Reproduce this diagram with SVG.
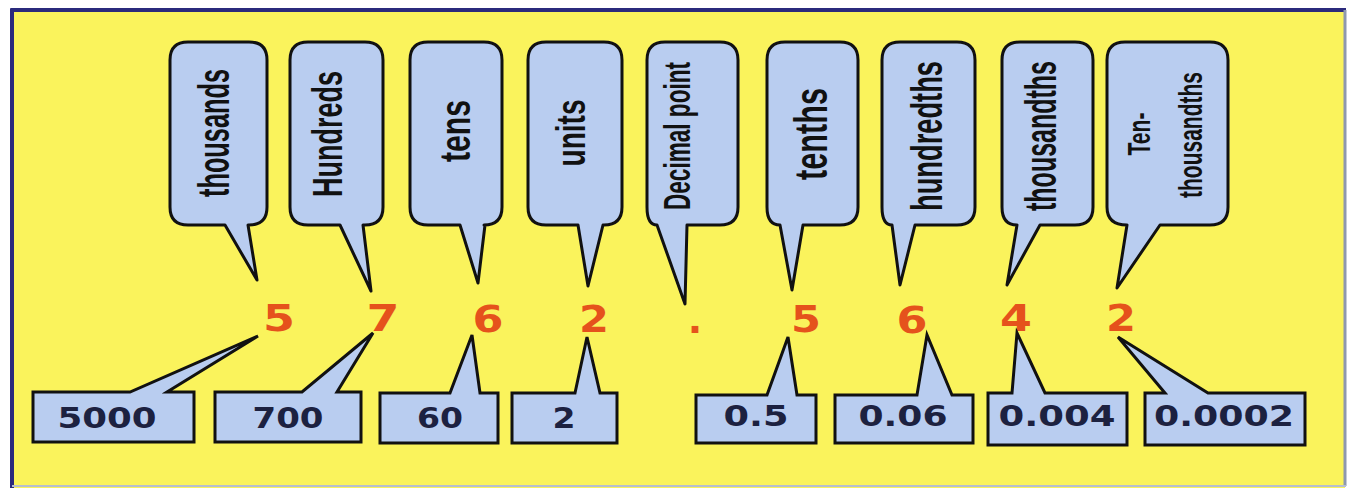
<svg xmlns="http://www.w3.org/2000/svg" width="1349" height="488" viewBox="0 0 1349 488">
  <style>
    .bubble { fill: #b9cdf0; stroke: #111; stroke-width: 3; stroke-linejoin: round; }
    .box { fill: #b9cdf0; stroke: #111; stroke-width: 3; stroke-linejoin: miter; }
    .label { font-family: "Liberation Sans Narrow", "Liberation Sans", sans-serif; font-weight: bold; fill: #111; text-anchor: middle; }
    .digit { font-family: "DejaVu Sans", sans-serif; font-weight: bold; font-size: 38px; fill: #e5521c; text-anchor: middle; }
    .value { font-family: "DejaVu Sans", sans-serif; font-weight: bold; font-size: 28px; fill: #1c2140; text-anchor: middle; }
  </style>

  <!-- page and framed panel -->
  <rect x="0" y="0" width="1349" height="488" fill="#ffffff"/>
  <rect x="12" y="10" width="1333" height="478" fill="#faf35c"/>
  <line x1="10.5" y1="10" x2="1346" y2="10" stroke="#2b2a7c" stroke-width="4"/>
  <line x1="12" y1="8.5" x2="12" y2="488" stroke="#2b2a7c" stroke-width="4"/>
  <line x1="1345" y1="10" x2="1345" y2="486" stroke="#8e98ae" stroke-width="3"/>
  <line x1="12" y1="486" x2="1346" y2="486" stroke="#b7bfcf" stroke-width="2"/>

  <!-- place-value name bubbles; labels run bottom-to-top in a tall, narrow face -->
  <g id="bubble-thousands">
    <path class="bubble" d="M188,42 H249 Q267,42 267,60 V207 Q267,225 249,225 H248 L257,280 L225,225 H188 Q170,225 170,207 V60 Q170,42 188,42 Z"/>
    <text class="label" font-size="31" textLength="128" lengthAdjust="spacingAndGlyphs" transform="translate(229,133) rotate(-90) scale(1,1.42)">thousands</text>
  </g>
  <g id="bubble-hundreds">
    <path class="bubble" d="M308,42 H365 Q383,42 383,60 V207 Q383,225 365,225 H363 L371,291 L340,225 H308 Q290,225 290,207 V60 Q290,42 308,42 Z"/>
    <text class="label" font-size="30" textLength="126" lengthAdjust="spacingAndGlyphs" transform="translate(342,134) rotate(-90) scale(1,1.4)">Hundreds</text>
  </g>
  <g id="bubble-tens">
    <path class="bubble" d="M428,42 H484 Q502,42 502,60 V207 Q502,225 484,225 H485 L478,283 L460,225 H428 Q410,225 410,207 V60 Q410,42 428,42 Z"/>
    <text class="label" font-size="30" textLength="62" lengthAdjust="spacingAndGlyphs" transform="translate(470,131) rotate(-90) scale(1,1.4)">tens</text>
  </g>
  <g id="bubble-units">
    <path class="bubble" d="M546,42 H604 Q622,42 622,60 V207 Q622,225 604,225 H603 L588,286 L578,225 H546 Q528,225 528,207 V60 Q528,42 546,42 Z"/>
    <text class="label" font-size="29" textLength="67" lengthAdjust="spacingAndGlyphs" transform="translate(585,133) rotate(-90) scale(1,1.38)">units</text>
  </g>
  <g id="bubble-decimal-point">
    <path class="bubble" d="M665,42 H720 Q738,42 738,60 V207 Q738,225 720,225 H687 L685,304 L657,225 Q647,225 647,207 V60 Q647,42 665,42 Z"/>
    <text class="label" font-size="27" textLength="148" lengthAdjust="spacingAndGlyphs" transform="translate(690,136) rotate(-90) scale(1,1.38)">Decimal point</text>
  </g>
  <g id="bubble-tenths">
    <path class="bubble" d="M785,42 H840 Q858,42 858,60 V207 Q858,225 840,225 H803 L792,290 L780,225 Q767,225 767,207 V60 Q767,42 785,42 Z"/>
    <text class="label" font-size="32" textLength="92" lengthAdjust="spacingAndGlyphs" transform="translate(827,134) rotate(-90) scale(1,1.42)">tenths</text>
  </g>
  <g id="bubble-hundredths">
    <path class="bubble" d="M900,42 H957 Q975,42 975,60 V207 Q975,225 957,225 H915 L900,285 L892,225 Q882,225 882,207 V60 Q882,42 900,42 Z"/>
    <text class="label" font-size="31" textLength="150" lengthAdjust="spacingAndGlyphs" transform="translate(942,136) rotate(-90) scale(1,1.42)">hundredths</text>
  </g>
  <g id="bubble-thousandths">
    <path class="bubble" d="M1020,42 H1075 Q1093,42 1093,60 V207 Q1093,225 1075,225 H1040 L1007,285 L1017,225 Q1002,225 1002,207 V60 Q1002,42 1020,42 Z"/>
    <text class="label" font-size="31" textLength="150" lengthAdjust="spacingAndGlyphs" transform="translate(1056,136) rotate(-90) scale(1,1.42)">thousandths</text>
  </g>
  <g id="bubble-ten-thousandths">
    <path class="bubble" d="M1125,42 H1210 Q1228,42 1228,60 V207 Q1228,225 1210,225 H1160 L1117,288 L1127,225 Q1107,225 1107,207 V60 Q1107,42 1125,42 Z"/>
    <text class="label" font-size="23" textLength="43" lengthAdjust="spacingAndGlyphs" transform="translate(1150,134) rotate(-90) scale(1,1.4)">Ten-</text>
    <text class="label" font-size="24" textLength="126" lengthAdjust="spacingAndGlyphs" transform="translate(1202,135) rotate(-90) scale(1,1.42)">thousandths</text>
  </g>

  <!-- the number 5762.5642 -->
  <g id="number">
    <text class="digit" x="279" y="331" textLength="32" lengthAdjust="spacingAndGlyphs">5</text>
    <text class="digit" x="383" y="331" textLength="33" lengthAdjust="spacingAndGlyphs">7</text>
    <text class="digit" x="488" y="332" textLength="31" lengthAdjust="spacingAndGlyphs">6</text>
    <text class="digit" x="594" y="332" textLength="30" lengthAdjust="spacingAndGlyphs">2</text>
    <text class="digit" x="695" y="333" font-size="16" fill="#d06410">.</text>
    <text class="digit" x="806" y="332" textLength="30" lengthAdjust="spacingAndGlyphs">5</text>
    <text class="digit" x="912" y="333" textLength="31" lengthAdjust="spacingAndGlyphs">6</text>
    <text class="digit" x="1016" y="331" textLength="32" lengthAdjust="spacingAndGlyphs">4</text>
    <text class="digit" x="1121" y="331" textLength="30" lengthAdjust="spacingAndGlyphs">2</text>
  </g>

  <!-- value boxes, each with a pointer up to its digit -->
  <g id="value-5000">
    <path class="box" d="M33,392 H130 L258,336 L167,392 H194 V442 H33 Z"/>
    <text class="value" x="107" y="428" textLength="99" lengthAdjust="spacingAndGlyphs">5000</text>
  </g>
  <g id="value-700">
    <path class="box" d="M215,392 H302 L373,333 L337,392 H361 V442 H215 Z"/>
    <text class="value" x="288" y="428" textLength="71" lengthAdjust="spacingAndGlyphs">700</text>
  </g>
  <g id="value-60">
    <path class="box" d="M380,393 H450 L472,335 L480,393 H498 V443 H380 Z"/>
    <text class="value" x="440" y="428" textLength="46" lengthAdjust="spacingAndGlyphs">60</text>
  </g>
  <g id="value-2">
    <path class="box" d="M512,393 H575 L587,337 L600,393 H617 V443 H512 Z"/>
    <text class="value" x="564" y="428" textLength="23" lengthAdjust="spacingAndGlyphs">2</text>
  </g>
  <g id="value-0-5">
    <path class="box" d="M696,395 H767 L788,337 L797,395 H816 V443 H696 Z"/>
    <text class="value" x="756" y="426" textLength="65" lengthAdjust="spacingAndGlyphs">0.5</text>
  </g>
  <g id="value-0-06">
    <path class="box" d="M835,395 H917 L927,335 L952,395 H973 V443 H835 Z"/>
    <text class="value" x="903" y="426" textLength="89" lengthAdjust="spacingAndGlyphs">0.06</text>
  </g>
  <g id="value-0-004">
    <path class="box" d="M988,393 H1012 L1017,333 L1045,393 H1127 V445 H988 Z"/>
    <text class="value" x="1057" y="426" textLength="117" lengthAdjust="spacingAndGlyphs">0.004</text>
  </g>
  <g id="value-0-0002">
    <path class="box" d="M1145,393 H1165 L1118,337 L1208,393 H1305 V445 H1145 Z"/>
    <text class="value" x="1224" y="426" textLength="140" lengthAdjust="spacingAndGlyphs">0.0002</text>
  </g>
</svg>
